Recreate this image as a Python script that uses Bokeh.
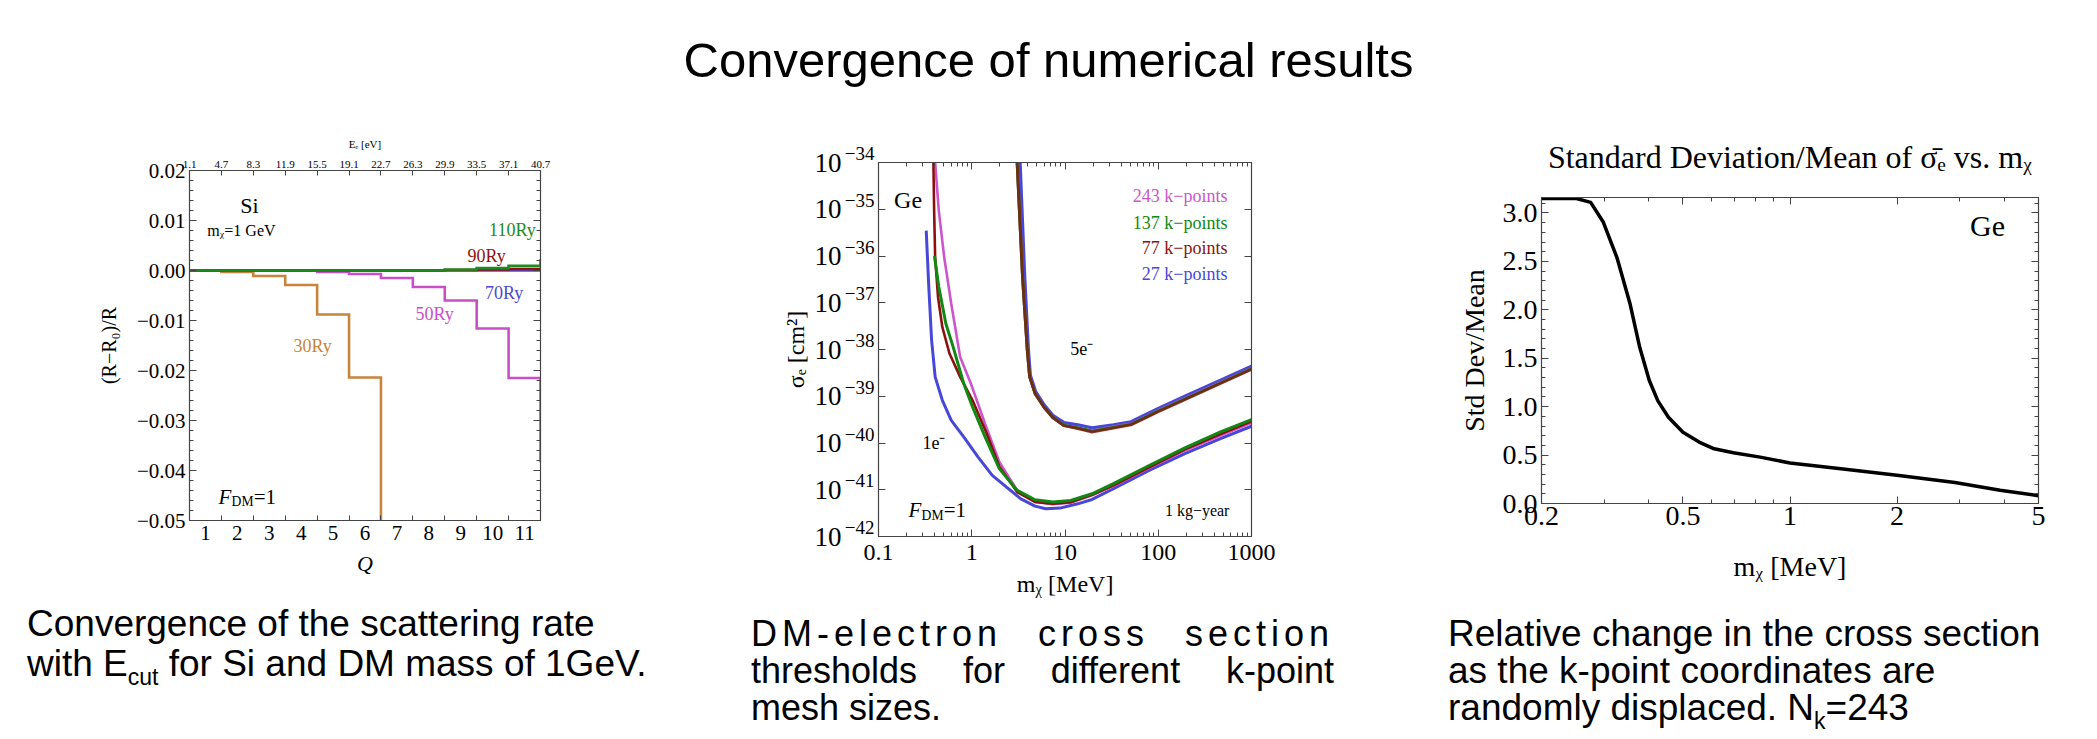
from bokeh.plotting import figure
from bokeh.models import (Range1d, LinearAxis, LogAxis, FixedTicker, Label,
                          CustomJSTickFormatter, Div)
from bokeh.layouts import column, row
from bokeh.embed import file_html
from bokeh.resources import INLINE

SERIF = "Liberation Serif"
SANS = "Liberation Sans"
FRAME = "#444444"

# ---------------- Panel 1 data: (R-R0)/R vs Q ----------------
q_bins = [1, 2, 3, 4, 5, 6, 7, 8, 9, 10, 11]
ee_tick_labels = ["1.1", "4.7", "8.3", "11.9", "15.5", "19.1", "22.7",
                  "26.3", "29.9", "33.5", "37.1", "40.7"]
y1_ticks = [-0.05, -0.04, -0.03, -0.02, -0.01, 0.0, 0.01, 0.02]
r_30ry = [0.0, -0.0003, -0.0011, -0.0029, -0.0088, -0.0214, -0.1]
r_50ry = [0.0, 0.0, 0.0, 0.0, -0.0003, -0.0007, -0.0015, -0.0033, -0.0060,
          -0.0116, -0.0215, -0.0381]
r_70ry = [0.0, 0.0, 0.0, 0.0, 0.0, 0.0, 0.0, 0.0, 0.0, 0.0, 0.0]
r_90ry = [0.0, 0.0, 0.0, 0.0, 0.0, 0.0, 0.0, 0.0, 0.0001, 0.0002, 0.0003]
r_110ry = [0.0, 0.0, 0.0, 0.0, 0.0, 0.0, 0.0, 0.0, 0.0002, 0.00047, 0.00093, 0.0020]

# ---------------- Panel 2 data: sigma_e vs m_chi ----------------
y2_exponents = [-42, -41, -40, -39, -38, -37, -36, -35, -34]
x2_major = [0.1, 1, 10, 100, 1000]

m_243_1e = [0.405, 0.443, 0.506, 0.603, 0.751, 0.978, 1.39, 1.98, 3.07, 4.77, 7.4,
            11.5, 19.5, 33.1, 79.8, 193, 465, 1000]
s_243_1e = [1e-34, 9.5e-36, 9.5e-37, 9.5e-38, 6.9e-39, 1.87e-39, 2.57e-40, 3.9e-41,
            9.7e-42, 5.5e-42, 4.9e-42, 5.3e-42, 7.6e-42, 1.2e-41, 2.9e-41, 6.9e-41,
            1.45e-40, 2.7e-40]
m_137_1e = [0.398, 0.443, 0.528, 0.63, 0.82, 1.02, 1.39, 1.98, 3.07, 4.77, 7.4, 11.5,
            19.5, 33.1, 79.8, 193, 465, 1000]
s_137_1e = [1e-36, 2.2e-37, 3.55e-38, 1.15e-38, 1.87e-39, 5.9e-40, 1.35e-40, 2.8e-41,
            9.7e-42, 6.1e-42, 5.5e-42, 5.9e-42, 8.2e-42, 1.35e-41, 3.3e-41, 7.9e-41,
            1.73e-40, 3.16e-40]
m_77_1e = [0.388, 0.395, 0.405, 0.435, 0.484, 0.577, 0.751, 1.02, 1.45, 1.98, 3.07,
           4.77, 7.4, 11.5, 19.5, 33.1, 79.8, 193, 465, 1000]
s_77_1e = [1e-34, 9.5e-36, 9.5e-37, 1.3e-37, 3.0e-38, 8.2e-39, 2.6e-39, 8.2e-40,
           1.58e-40, 3.1e-41, 8.9e-42, 5.5e-42, 5.0e-42, 5.4e-42, 7.8e-42, 1.24e-41,
           3.0e-41, 7.3e-41, 1.55e-40, 2.9e-40]
m_27_1e = [0.325, 0.345, 0.371, 0.405, 0.484, 0.603, 0.82, 1.17, 1.66, 2.36, 3.36,
           4.77, 6.22, 8.84, 13.7, 19.5, 33.1, 79.8, 193, 465, 1000]
s_27_1e = [3.5e-36, 2.5e-37, 1.6e-38, 2.6e-39, 8.2e-40, 3.06e-40, 1.35e-40, 5.0e-41,
           2.03e-41, 1.14e-41, 6.4e-42, 4.47e-42, 3.92e-42, 4.05e-42, 5.0e-42, 6.2e-42,
           1.05e-41, 2.6e-41, 5.9e-41, 1.24e-40, 2.28e-40]

m_243_5e = [3.07, 3.51, 3.94, 4.18, 4.77, 5.94, 7.4, 9.7, 13.7, 19.5, 33.1, 51, 100,
            193, 465, 1000]
s_243_5e = [1e-34, 3.5e-37, 1e-38, 2.6e-39, 1.15e-39, 5.9e-40, 3.5e-40, 2.4e-40,
            2.1e-40, 1.8e-40, 2.2e-40, 2.55e-40, 4.9e-40, 8.9e-40, 1.96e-39, 3.9e-39]
m_137_5e = [3.07, 3.51, 3.94, 4.18, 4.77, 5.94, 7.4, 9.7, 13.7, 19.5, 33.1, 51, 100,
            193, 465, 1000]
s_137_5e = [1e-34, 3.5e-37, 1e-38, 2.6e-39, 1.15e-39, 5.9e-40, 3.5e-40, 2.4e-40,
            2.1e-40, 1.78e-40, 2.15e-40, 2.5e-40, 4.8e-40, 8.7e-40, 1.92e-39, 3.85e-39]
m_77_5e = [3.07, 3.51, 3.94, 4.18, 4.77, 5.94, 7.4, 9.7, 13.7, 19.5, 33.1, 51, 100,
           193, 465, 1000]
s_77_5e = [1e-34, 3.5e-37, 1e-38, 2.6e-39, 1.15e-39, 5.9e-40, 3.5e-40, 2.35e-40,
           2.05e-40, 1.72e-40, 2.1e-40, 2.45e-40, 4.7e-40, 8.5e-40, 1.88e-39, 3.75e-39]
m_27_5e = [3.3, 3.7, 4.05, 4.25, 4.85, 6.0, 7.4, 9.7, 13.7, 19.5, 33.1, 51, 100,
           193, 465, 1000]
s_27_5e = [1e-34, 3.5e-37, 1e-38, 2.8e-39, 1.25e-39, 6.5e-40, 3.9e-40, 2.75e-40,
           2.45e-40, 2.1e-40, 2.45e-40, 2.85e-40, 5.5e-40, 1.0e-39, 2.2e-39, 4.4e-39]

# ---------------- Panel 3 data: std dev / mean vs m_chi ----------------
m_chi3 = [0.2, 0.251, 0.275, 0.298, 0.326, 0.355, 0.378, 0.402, 0.425, 0.455, 0.5,
          0.555, 0.612, 0.693, 0.824, 1.0, 1.39, 2.0, 2.91, 3.9, 5.0]
sd_over_mean = [3.15, 3.15, 3.11, 2.91, 2.54, 2.06, 1.61, 1.27, 1.06, 0.89, 0.736,
                0.634, 0.565, 0.524, 0.479, 0.418, 0.36, 0.291, 0.216, 0.137, 0.08]
x3_ticks = [0.2, 0.5, 1, 2, 5]
x3_minor = [0.3, 0.4, 0.6, 0.7, 0.8, 0.9, 3, 4]
y3_ticks = [0.0, 0.5, 1.0, 1.5, 2.0, 2.5, 3.0]

EMPTY_FMT = "return '';"


def style_axis(ax, size, show=True, tin=7, mtin=4):
    ax.axis_line_color = FRAME
    ax.axis_line_width = 1.2
    ax.major_tick_in = tin
    ax.major_tick_out = 0
    ax.minor_tick_in = mtin
    ax.minor_tick_out = 0
    ax.major_tick_line_color = FRAME
    ax.minor_tick_line_color = FRAME
    ax.major_label_text_font = SERIF
    ax.major_label_text_color = "black"
    ax.major_label_text_font_size = f"{size}px"
    ax.axis_label_text_font = SERIF
    ax.axis_label_text_font_style = "normal"
    ax.axis_label_text_color = "black"
    if not show:
        ax.formatter = CustomJSTickFormatter(code=EMPTY_FMT)
        ax.major_label_standoff = 0


def base_fig(**kw):
    p = figure(output_backend="svg", toolbar_location=None, frame_align=False, **kw)
    p.grid.visible = False
    p.outline_line_color = FRAME
    p.background_fill_color = "white"
    p.border_fill_color = "white"
    return p


def step_xy(vals):
    xs, ys = [], []
    for i, v in enumerate(vals):
        xs += [q_bins[0] - 0.5 + i, q_bins[0] + 0.5 + i]
        ys += [v, v]
    return xs, ys


def lab(p, x, y, text, size, color="black", align="left", style="normal",
        xo=0, yo=0, font=SERIF):
    p.add_layout(Label(x=x, y=y, text=text, text_font=font, text_font_size=f"{size}px",
                       text_color=color, text_align=align, text_baseline="middle",
                       text_font_style=style, x_offset=xo, y_offset=yo))


def fdm(p, x, y, size):
    lab(p, x, y, "F", size, style="italic")
    lab(p, x, y, "DM", size * 0.65, xo=size * 0.62, yo=-size * 0.25)
    lab(p, x, y, "=1", size, xo=size * 0.62 + size * 0.65 * 1.62)


# ======================= Panel 1 =======================
q_edges = [b - 0.5 for b in q_bins] + [q_bins[-1] + 0.5]
p1 = base_fig(width=700, height=494, x_range=Range1d(q_edges[0], q_edges[-1]),
              y_range=Range1d(y1_ticks[0], y1_ticks[-1]),
              min_border_left=189, min_border_right=160, min_border_top=60,
              min_border_bottom=84)

y1_minor = [round(y1_ticks[0] + 0.002 * i, 4) for i in range(36)]
y1_fmt = CustomJSTickFormatter(code="""
if (Math.abs(tick) < 1e-9) return "0.00";
return (tick < 0 ? "\u2212" : "") + Math.abs(tick).toFixed(2);
""")

xb = p1.xaxis[0]
style_axis(xb, 21, tin=0, mtin=5)
xb.ticker = FixedTicker(ticks=q_bins, minor_ticks=q_edges[1:-1])
xb.axis_label = "Q"
xb.axis_label_text_font_style = "italic"
xb.axis_label_text_font_size = "22px"
xb.major_label_standoff = 5
xb.axis_label_standoff = 8

yl = p1.yaxis[0]
style_axis(yl, 21)
yl.ticker = FixedTicker(ticks=y1_ticks, minor_ticks=y1_minor)
yl.formatter = y1_fmt
yl.axis_label = "(R\u2212R\u2080)/R"
yl.axis_label_text_font_size = "20px"
yl.major_label_standoff = 4
yl.axis_label_standoff = 14

xt = LinearAxis(ticker=FixedTicker(ticks=q_edges),
                formatter=CustomJSTickFormatter(args=dict(labels=ee_tick_labels),
                                                code="return labels[Math.round(tick - 0.5)];"),
                axis_label="E\u2091 [eV]")
style_axis(xt, 11, tin=5)
xt.axis_label_text_font_size = "11px"
xt.major_label_standoff = 3
xt.axis_label_standoff = 8
p1.add_layout(xt, "above")

yr = LinearAxis(ticker=FixedTicker(ticks=y1_ticks, minor_ticks=y1_minor))
style_axis(yr, 10, show=False)
p1.add_layout(yr, "right")

C30, C50, C70, C90, C110 = "#c8843e", "#c94fc9", "#4a4ad2", "#8e1414", "#1f8a1f"
for vals, col in [(r_30ry, C30), (r_50ry, C50), (r_70ry, C70), (r_90ry, C90), (r_110ry, C110)]:
    xs, ys = step_xy(vals)
    p1.line(xs, ys, line_color=col, line_width=2.6, line_join="miter")

lab(p1, 2.38, 0.013, "Si", 22, align="center")
lab(p1, 1.06, 0.0080, "m\u1d6a=1 GeV", 16)
lab(p1, 11.35, 0.0082, "110Ry", 18, C110, "right")
lab(p1, 9.81, 0.0030, "90Ry", 18, C90, "center")
lab(p1, 10.36, -0.0044, "70Ry", 18, C70, "center")
lab(p1, 8.18, -0.0086, "50Ry", 18, C50, "center")
lab(p1, 4.36, -0.0150, "30Ry", 18, C30, "center")
fdm(p1, 1.41, -0.0452, 21)

# ======================= Panel 2 =======================
x2_minor = [m * x for x in x2_major[:-1] for m in range(2, 10)]
y2_major = [10.0 ** e for e in y2_exponents]

p2 = base_fig(width=630, height=494, x_axis_type="log", y_axis_type="log",
              x_range=Range1d(x2_major[0], x2_major[-1]),
              y_range=Range1d(y2_major[0], y2_major[-1]),
              min_border_left=178, min_border_right=79, min_border_top=52,
              min_border_bottom=68)

plain_fmt = CustomJSTickFormatter(code="return tick.toString();")

xb2 = p2.xaxis[0]
style_axis(xb2, 24)
xb2.ticker = FixedTicker(ticks=x2_major, minor_ticks=x2_minor)
xb2.formatter = plain_fmt
xb2.axis_label = "m\u1d6a [MeV]"
xb2.axis_label_text_font_size = "24px"
xb2.major_label_standoff = 8
xb2.axis_label_standoff = 8

# inner left axis: raised exponents (two-line label, upper line shown)
yl2 = p2.yaxis[0]
style_axis(yl2, 19)
yl2.ticker = FixedTicker(ticks=y2_major, minor_ticks=[])
yl2.formatter = CustomJSTickFormatter(code="""
const e = Math.round(Math.log10(tick));
return "\u2212" + Math.abs(e) + "\\n\u00a0";
""")
yl2.major_label_text_line_height = 0.85
yl2.major_label_standoff = 4

# outer left axis: the base "10" and the axis title
yl2b = LogAxis(ticker=FixedTicker(ticks=y2_major, minor_ticks=[]),
               formatter=CustomJSTickFormatter(code="return '10';"))
style_axis(yl2b, 27, tin=0, mtin=0)
yl2b.axis_line_color = None
yl2b.major_label_standoff = 0
yl2b.axis_label = "\u03c3\u2091 [cm\u00b2]"
yl2b.axis_label_text_font_size = "24px"
yl2b.axis_label_standoff = 3
p2.add_layout(yl2b, "left")

xt2 = LogAxis(ticker=FixedTicker(ticks=x2_major, minor_ticks=x2_minor))
style_axis(xt2, 10, show=False)
p2.add_layout(xt2, "above")
yr2 = LogAxis(ticker=FixedTicker(ticks=y2_major, minor_ticks=[]))
style_axis(yr2, 10, show=False)
p2.add_layout(yr2, "right")

CM, CG, CR, CB = "#cc55cc", "#118811", "#8b1111", "#4848d8"
p2.line(m_27_5e, s_27_5e, line_color=CB, line_width=3.2)
p2.line(m_243_5e, s_243_5e, line_color=CM, line_width=3)
p2.line(m_137_5e, s_137_5e, line_color=CG, line_width=3)
p2.line(m_77_5e, s_77_5e, line_color=CR, line_width=3, line_alpha=0.75)
p2.line(m_27_1e, s_27_1e, line_color=CB, line_width=3)
p2.line(m_243_1e, s_243_1e, line_color=CM, line_width=2.6)
p2.line(m_77_1e, s_77_1e, line_color=CR, line_width=2.6)
p2.line(m_137_1e, s_137_1e, line_color=CG, line_width=3)

lab(p2, 0.147, 1.55e-35, "Ge", 24)
lab(p2, 552, 1.9e-35, "243 k\u2212points", 18, CM, "right")
lab(p2, 552, 5.1e-36, "137 k\u2212points", 18, CG, "right")
lab(p2, 552, 1.48e-36, "77 k\u2212points", 18, CR, "right")
lab(p2, 552, 4.2e-37, "27 k\u2212points", 18, CB, "right")
lab(p2, 15.1, 1.05e-38, "5e\u207b", 18, align="center")
lab(p2, 0.393, 9.8e-41, "1e\u207b", 18, align="center")
fdm(p2, 0.21, 3.6e-42, 21)
lab(p2, 580, 3.6e-42, "1 kg\u2212year", 16, align="right")

# ======================= Panel 3 =======================
p3 = base_fig(width=767, height=494, x_axis_type="log",
              x_range=Range1d(x3_ticks[0], x3_ticks[-1]), y_range=Range1d(0, 3.16),
              min_border_left=211, min_border_right=59, min_border_top=87,
              min_border_bottom=101,
              title="Standard Deviation/Mean of \u03c3\u0304\u2091 vs. m\u1d6a")
p3.title.align = "center"
p3.title.text_font = SERIF
p3.title.text_font_size = "32px"
p3.title.text_font_style = "normal"
p3.title.text_color = "black"
p3.title.standoff = 46
p3.title.offset = 12

y3_minor = [round(0.1 * i, 1) for i in range(32)]
xb3 = p3.xaxis[0]
style_axis(xb3, 28)
xb3.ticker = FixedTicker(ticks=x3_ticks, minor_ticks=x3_minor)
xb3.formatter = plain_fmt
xb3.axis_label = "m\u1d6a [MeV]"
xb3.axis_label_text_font_size = "28px"
xb3.major_label_standoff = 3
xb3.axis_label_standoff = 23

yl3 = p3.yaxis[0]
style_axis(yl3, 28)
yl3.ticker = FixedTicker(ticks=y3_ticks, minor_ticks=y3_minor)
yl3.formatter = CustomJSTickFormatter(code="return tick.toFixed(1);")
yl3.axis_label = "Std Dev/Mean"
yl3.axis_label_text_font_size = "28px"
yl3.major_label_standoff = 4
yl3.axis_label_standoff = 10

xt3 = LogAxis(ticker=FixedTicker(ticks=x3_ticks, minor_ticks=x3_minor))
style_axis(xt3, 10, show=False)
p3.add_layout(xt3, "above")
yr3 = LinearAxis(ticker=FixedTicker(ticks=y3_ticks, minor_ticks=y3_minor))
style_axis(yr3, 10, show=False)
p3.add_layout(yr3, "right")

p3.line(m_chi3, sd_over_mean, line_color="black", line_width=3.5, line_join="round")
lab(p3, 3.21, 2.87, "Ge", 30)

# ======================= Title and captions =======================
FONT = "font-family:'Liberation Sans',Arial,sans-serif;color:#000;"
title_div = Div(width=2097, height=110, margin=0, text=(
    f'<div style="{FONT}font-size:49px;line-height:49px;padding-top:36px;'
    'width:2097px;text-align:center;white-space:nowrap;">Convergence of numerical results</div>'))

SUB = 'style="font-size:23px;vertical-align:-9px;line-height:0;"'
cap1 = Div(width=720, height=135, margin=0, text=(
    f'<div style="{FONT}font-size:37px;line-height:40px;padding-left:27px;white-space:nowrap;">'
    'Convergence of the scattering rate<br>'
    f'with E<span {SUB}>cut</span> for Si and DM mass of 1GeV.</div>'))
cap2 = Div(width=700, height=135, margin=0, text=(
    f'<div style="{FONT}font-size:36px;line-height:37px;padding-left:31px;padding-top:11px;">'
    '<div style="width:583px;text-align:justify;text-align-last:justify;letter-spacing:5px;">'
    'DM-electron cross section</div>'
    '<div style="width:583px;text-align:justify;text-align-last:justify;">'
    'thresholds for different k-point</div>'
    '<div>mesh sizes.</div></div>'))
cap3 = Div(width=677, height=135, margin=0, text=(
    f'<div style="{FONT}font-size:37px;line-height:37px;padding-left:28px;padding-top:11px;white-space:nowrap;">'
    'Relative change in the cross section<br>'
    'as the k-point coordinates are<br>'
    f'randomly displaced. N<span {SUB}>k</span>=243</div>'))

layout = column(title_div, row(p1, p2, p3), row(cap1, cap2, cap3))

with open("out.html", "w", encoding="utf-8") as f:
    f.write(file_html(layout, INLINE, title="Convergence of numerical results"))
